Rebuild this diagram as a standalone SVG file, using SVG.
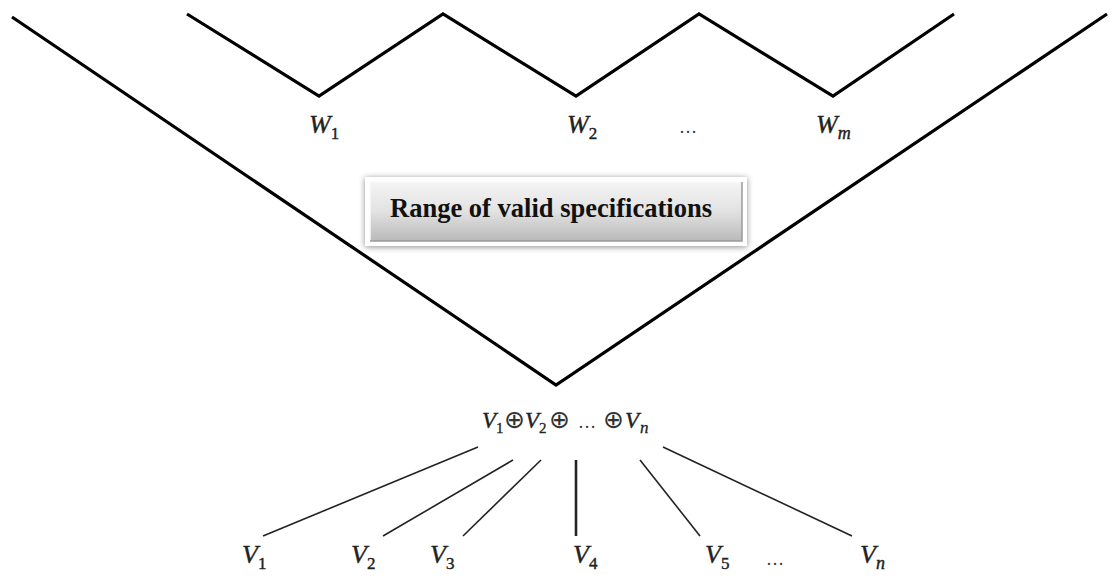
<svg xmlns="http://www.w3.org/2000/svg" width="1112" height="583" viewBox="0 0 1112 583">
<defs>
<linearGradient id="boxg" x1="0" y1="0" x2="0" y2="1">
<stop offset="0" stop-color="#f4f4f4"/>
<stop offset="0.5" stop-color="#e2e2e2"/>
<stop offset="1" stop-color="#b9b9b9"/>
</linearGradient>
<filter id="sh" x="-10%" y="-30%" width="120%" height="160%">
<feGaussianBlur in="SourceAlpha" stdDeviation="3"/>
<feOffset dx="0" dy="1"/>
<feComponentTransfer><feFuncA type="linear" slope="0.45"/></feComponentTransfer>
<feMerge><feMergeNode/><feMergeNode in="SourceGraphic"/></feMerge>
</filter>
<style>
.thick{fill:none;stroke:#000;stroke-width:3.2;stroke-linejoin:miter}
.thin{fill:none;stroke:#222;stroke-width:1.6}
.m{font-family:"Liberation Serif","DejaVu Serif",serif;font-style:italic;font-size:26px;fill:#222;stroke:#222;stroke-width:0.4}
.sub{font-family:"Liberation Serif","DejaVu Serif",serif;font-style:normal;font-size:17px}
.subi{font-family:"Liberation Serif","DejaVu Serif",serif;font-style:italic;font-size:18px}
.f{font-family:"Liberation Serif","DejaVu Serif",serif;font-style:italic;font-size:23px;fill:#222;stroke:#222;stroke-width:0.35}
.fs{font-family:"Liberation Serif","DejaVu Serif",serif;font-size:15px;fill:#222;stroke:#222;stroke-width:0.3}
.fsi{font-family:"Liberation Serif","DejaVu Serif",serif;font-style:italic;font-size:17px;fill:#222;stroke:#222;stroke-width:0.3}
.op{font-family:"DejaVu Sans",sans-serif;font-size:25px;fill:#333}
.dots{font-family:"Liberation Serif",serif;font-size:18px;fill:#333}
.title{font-family:"Liberation Serif","Times New Roman",serif;font-weight:bold;font-size:26.5px;fill:#111}
</style>
</defs>
<rect width="1112" height="583" fill="#fff"/>
<g id="connectors">
<polyline class="thick" points="12,17 556,385 1107,14"/>
<polyline class="thick" points="187,14 319,96 443,14 576,96 699,14 833,96 954,14"/>
<line class="thin" x1="478" y1="447" x2="263" y2="536"/>
<line class="thin" x1="513" y1="460" x2="383" y2="536"/>
<line class="thin" x1="541" y1="460" x2="463" y2="536"/>
<line x1="576" y1="460" x2="576" y2="536" stroke="#222" stroke-width="2.6"/>
<line class="thin" x1="640" y1="460" x2="700" y2="536"/>
<line class="thin" x1="663" y1="447" x2="852" y2="536"/>
</g>
<g id="w1"><text class="m" x="309" y="133">W<tspan class="sub" dy="6">1</tspan></text></g>
<g id="w2"><text class="m" x="567" y="133">W<tspan class="sub" dy="6">2</tspan></text></g>
<g id="wdots"><text class="dots" x="679" y="133">…</text></g>
<g id="wm"><text class="m" x="816" y="133">W<tspan class="subi" dy="6">m</tspan></text></g>
<g id="range">
<rect x="365" y="177" width="382" height="69" fill="#fff" filter="url(#sh)"/>
<rect x="370" y="182" width="372" height="59" fill="url(#boxg)"/>
<polyline points="370,241 370,182 742,182" fill="none" stroke="#fafafa" stroke-width="1.5"/>
<polyline points="370,241 742,241 742,182" fill="none" stroke="#9a9a9a" stroke-width="1.5"/>
<text class="title" x="390" y="217" textLength="322" lengthAdjust="spacingAndGlyphs">Range of valid specifications</text>
</g>
<g id="sum">
<text class="f" x="482" y="428">V</text><text class="fs" x="496" y="433">1</text>
<text class="op" x="504" y="428">⊕</text>
<text class="f" x="525" y="428">V</text><text class="fs" x="539" y="433">2</text>
<text class="op" x="549" y="428">⊕</text>
<text class="dots" x="578" y="428">…</text>
<text class="op" x="603" y="428">⊕</text>
<text class="f" x="625" y="428">V</text><text class="fsi" x="640" y="433">n</text>
</g>
<g id="v1"><text class="m" x="242" y="563">V<tspan class="sub" dy="6">1</tspan></text></g>
<g id="v2"><text class="m" x="351" y="563">V<tspan class="sub" dy="6">2</tspan></text></g>
<g id="v3"><text class="m" x="430" y="563">V<tspan class="sub" dy="6">3</tspan></text></g>
<g id="v4"><text class="m" x="573" y="563">V<tspan class="sub" dy="6">4</tspan></text></g>
<g id="v5"><text class="m" x="705" y="563">V<tspan class="sub" dy="6">5</tspan></text></g>
<g id="vdots"><text class="dots" x="766" y="565">…</text></g>
<g id="vn"><text class="m" x="860" y="563">V<tspan class="subi" dy="6">n</tspan></text></g>
</svg>
